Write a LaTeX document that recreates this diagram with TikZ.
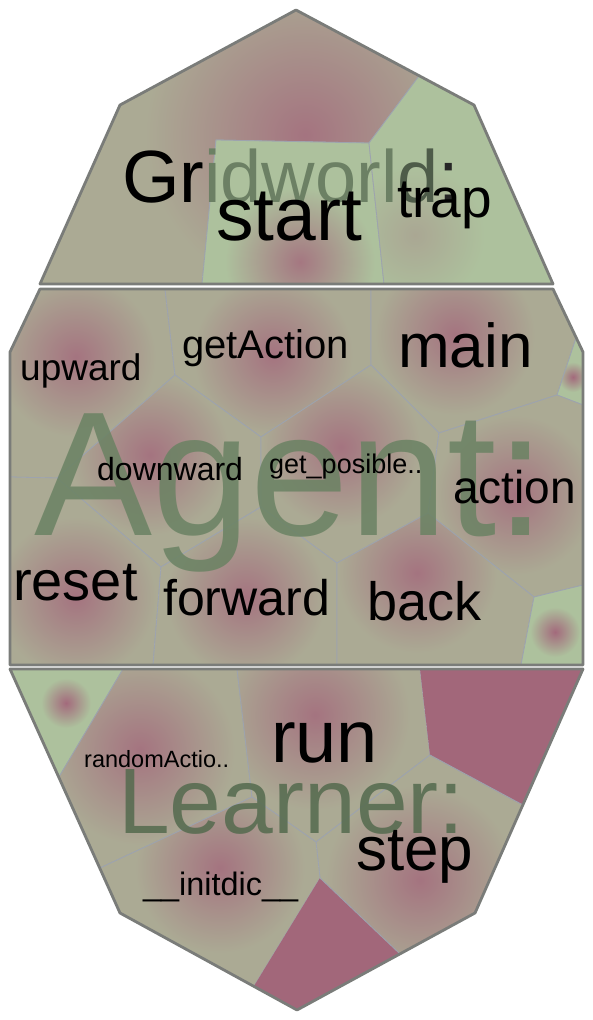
\documentclass[tikz,border=0pt]{standalone}
\usepackage{fontspec}
\setmainfont{Liberation Sans}

\definecolor{cellgray}{HTML}{ABAA94}
\definecolor{cellgreen}{HTML}{ADC19D}
\definecolor{cellred}{HTML}{A2677A}
\definecolor{glow}{HTML}{A36A7C}
\definecolor{rim}{HTML}{7A7C79}
\definecolor{seam}{HTML}{9DA3AE}
\definecolor{agenttext}{HTML}{6A8263}
\definecolor{learnertext}{HTML}{546A4E}
\definecolor{gwgreen}{HTML}{6C8064}
\definecolor{gwdark}{HTML}{4E5C49}

% one cell: base colour, glow colour, outline, glow centre, glow radius
\newcommand{\vcell}[5]{%
  \begin{scope}
    \clip #3;
    \fill[#1] #3;
    \shade[inner color=#2, outer color=#1] #4 circle (#5);
  \end{scope}
  \draw[seam, line width=0.8pt] #3;}
\newcommand{\fs}[1]{\fontsize{#1}{#1}\selectfont}

\begin{document}
\begin{tikzpicture}[x=1pt, y=-1pt,
    lbl/.style={anchor=base west, inner sep=0pt, text=black},
    grouplbl/.style={anchor=base west, inner sep=0pt, text opacity=0.85},
    outline/.style={rim, line width=2.8pt, line join=round}]
    \useasboundingbox (0,0) rectangle (592,1020);

    % 1. Gridworld cells
    \vcell{cellgray}{glow!85!cellgray}{(40,284) -- (120,105) -- (296,10) -- (419,76) -- (369,143) -- (216,140) -- (202,284) -- cycle}{(305,135)}{160}
    \vcell{cellgreen}{glow!85!cellgreen}{(216,140) -- (369,143) -- (384,284) -- (202,284) -- cycle}{(300,262)}{75}
    \vcell{cellgreen}{glow!30!cellgreen}{(419,76) -- (474,105) -- (553,284) -- (384,284) -- (369,143) -- cycle}{(415,235)}{70}

    % 2. Agent cells
    \vcell{cellgray}{glow!85!cellgray}{(10,352) -- (40,289) -- (165,289) -- (175,375) -- (57,478) -- (10,477) -- cycle}{(76,357)}{80}
    \vcell{cellgray}{glow!85!cellgray}{(165,289) -- (371,289) -- (371,365) -- (261,437) -- (175,375) -- cycle}{(273,355)}{80}
    \vcell{cellgray}{glow!85!cellgray}{(371,289) -- (553,289) -- (576,338) -- (557,395) -- (439,433) -- (371,365) -- cycle}{(455,335)}{80}
    \vcell{cellgreen}{glow}{(576,338) -- (583,352) -- (583,405) -- (557,395) -- cycle}{(573,377)}{15}
    \vcell{cellgray}{glow!85!cellgray}{(57,478) -- (175,375) -- (261,437) -- (261,507) -- (161,567) -- cycle}{(150,455)}{80}
    \vcell{cellgray}{glow!85!cellgray}{(261,437) -- (371,365) -- (439,433) -- (428,513) -- (337,563) -- (261,507) -- cycle}{(341,447)}{80}
    \vcell{cellgray}{glow!85!cellgray}{(439,433) -- (557,395) -- (583,405) -- (583,585) -- (534,597) -- (428,513) -- cycle}{(515,495)}{80}
    \vcell{cellgray}{glow!85!cellgray}{(10,477) -- (57,478) -- (161,567) -- (153,665) -- (10,665) -- cycle}{(76,597)}{80}
    \vcell{cellgray}{glow!85!cellgray}{(161,567) -- (261,507) -- (337,563) -- (337,665) -- (153,665) -- cycle}{(246,597)}{80}
    \vcell{cellgray}{glow!85!cellgray}{(337,563) -- (428,513) -- (534,597) -- (521,665) -- (337,665) -- cycle}{(417,573)}{80}
    \vcell{cellgreen}{glow}{(534,597) -- (583,585) -- (583,665) -- (521,665) -- cycle}{(555,632)}{25}

    % 3. Learner cells
    \vcell{cellgreen}{glow}{(10,669) -- (123,669) -- (59,777) -- cycle}{(66,703)}{25}
    \vcell{cellgray}{glow!85!cellgray}{(123,669) -- (237,669) -- (252,797) -- (100,868) -- (59,777) -- cycle}{(140,750)}{95}
    \vcell{cellgray}{glow!85!cellgray}{(237,669) -- (420,669) -- (430,755) -- (316,842) -- (252,797) -- cycle}{(315,715)}{95}
    \vcell{cellgray}{glow!85!cellgray}{(430,755) -- (523,805) -- (475,913) -- (400,954) -- (320,878) -- (316,842) -- cycle}{(420,880)}{95}
    \vcell{cellgray}{glow!85!cellgray}{(100,868) -- (252,797) -- (316,842) -- (320,878) -- (254,986) -- (120,913) -- cycle}{(220,868)}{85}
    \fill[cellred] (420,669) -- (583,669) -- (523,805) -- (430,755) -- cycle;
    \fill[cellred] (320,878) -- (400,954) -- (297,1010) -- (254,986) -- cycle;
    \draw[seam, line width=0.8pt] (430,755) -- (523,805) (320,878) -- (400,954);

    % 4. Group labels
    \node[lbl] (gridworld) at (122,202) {\fs{74}Gr{\color{gwgreen}idworl}{\color{gwdark}d}{\color{black!85}:}};
    \node[grouplbl, text=agenttext] (agent) at (34,535) {\fs{177}Agent:};
    \node[grouplbl, text=learnertext] (learner) at (118,833) {\fs{93}Learner:};

    % 5. Member labels
    \node[lbl] (start) at (216,240) {\fs{75}start};
    \node[lbl] (trap) at (397,217) {\fs{55}trap};
    \node[lbl] (upward) at (20,380) {\fs{37}upward};
    \node[lbl] (getaction) at (182,358) {\fs{40}getAction};
    \node[lbl] (main) at (398,367) {\fs{62}main};
    \node[lbl] (downward) at (97,480) {\fs{32}downward};
    \node[lbl] (getposible) at (269,473) {\fs{27}get\_posible..};
    \node[lbl] (action) at (453,503) {\fs{46}action};
    \node[lbl] (reset) at (13,600) {\fs{56}reset};
    \node[lbl] (forward) at (163,615) {\fs{50}forward};
    \node[lbl] (back) at (367,620) {\fs{54}back};
    \node[lbl] (randomaction) at (84,767) {\fs{23.5}randomActio..};
    \node[lbl] (run) at (271,762) {\fs{74}run};
    \node[lbl] (stepfn) at (356,870) {\fs{62}step};
    \node[lbl] (initdic) at (143,895) {\fs{32.4}\_\_initdic\_\_};

    % 6. Group outlines
    \draw[outline] (40,284) -- (120,105) -- (296,10) -- (474,105) -- (553,284) -- cycle;
    \draw[outline] (40,289) -- (553,289) -- (583,352) -- (583,665) -- (10,665) -- (10,352) -- cycle;
    \draw[outline] (10,669) -- (583,669) -- (475,913) -- (297,1010) -- (120,913) -- cycle;
\end{tikzpicture}
\end{document}
